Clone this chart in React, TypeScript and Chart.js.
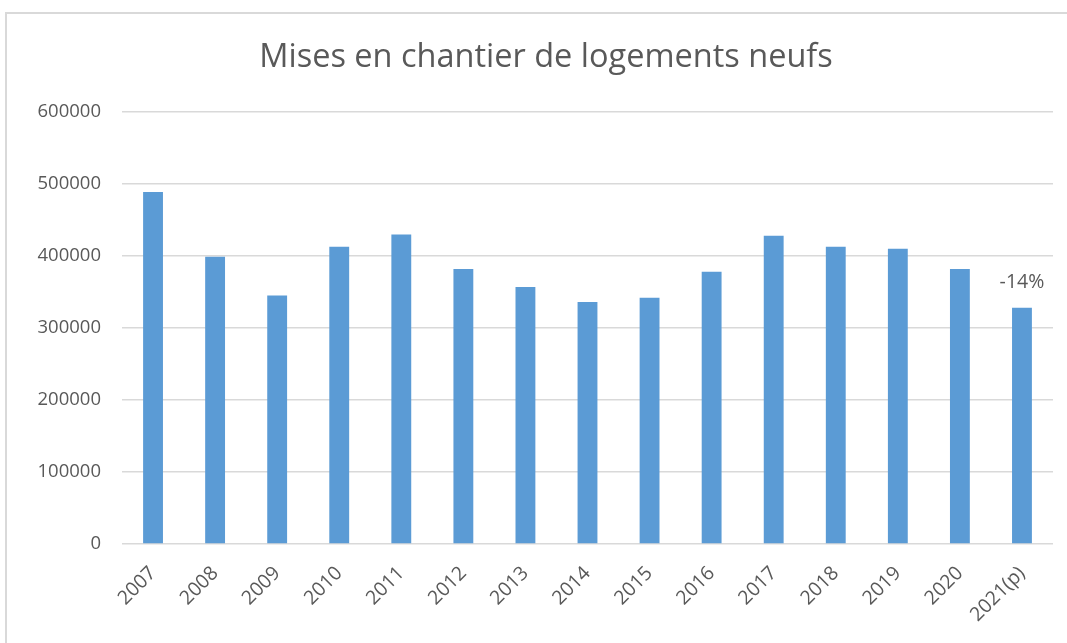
import React, { useEffect, useRef } from "react";
import { Chart, registerables } from "chart.js";

Chart.register(...registerables);

const categories = ["2007", "2008", "2009", "2010", "2011", "2012", "2013", "2014", "2015", "2016", "2017", "2018", "2019", "2020", "2021(p)"];
const values = [489000, 399000, 345000, 413000, 430000, 382000, 357000, 336000, 342000, 378000, 428000, 413000, 410000, 382000, 328000];
const barNotes = ["", "", "", "", "", "", "", "", "", "", "", "", "", "", "-14%"];
const yTicks = [0, 100000, 200000, 300000, 400000, 500000, 600000];
const titleText = "Mises en chantier de logements neufs";

const FONT = "'Open Sans', 'Liberation Sans', sans-serif";
const TEXT = "#595959";

const annotatePlugin = {
  id: "annotate",
  afterDatasetsDraw(chart: any) {
    const ctx = chart.ctx;
    const meta = chart.getDatasetMeta(0);
    ctx.save();
    ctx.font = `19.5px ${FONT}`;
    ctx.fillStyle = TEXT;
    ctx.textAlign = "center";
    ctx.textBaseline = "middle";
    meta.data.forEach((el: any, i: number) => {
      const note = barNotes[i];
      if (note) ctx.fillText(note, el.x, el.y - 25);
    });
    ctx.restore();
  },
};

const titlePlugin = {
  id: "customTitle",
  afterDraw(chart: any) {
    const ctx = chart.ctx;
    ctx.save();
    ctx.font = `32.5px ${FONT}`;
    ctx.fillStyle = TEXT;
    ctx.textAlign = "center";
    ctx.textBaseline = "middle";
    ctx.fillText(titleText, 546, 58);
    ctx.restore();
  },
};

export default function App() {
  const ref = useRef<HTMLCanvasElement | null>(null);
  useEffect(() => {
    if (!ref.current) return;
    const chart = new Chart(ref.current, {
      type: "bar",
      data: {
        labels: categories,
        datasets: [
          {
            data: values,
            backgroundColor: "#5B9BD5",
            borderWidth: 0,
            barPercentage: 0.32,
            categoryPercentage: 1,
          },
        ],
      },
      options: {
        animation: false,
        responsive: false,
        maintainAspectRatio: false,
        layout: { padding: { top: 112, right: 14, left: 0, bottom: 0 } },
        plugins: {
          legend: { display: false },
          title: { display: false },
          tooltip: { enabled: false },
        },
        scales: {
          x: {
            grid: { display: false, drawTicks: false },
            border: { display: false },
            ticks: {
              autoSkip: false,
              minRotation: 45,
              maxRotation: 45,
              padding: 18,
              color: TEXT,
              font: { family: FONT, size: 19.5 },
            },
            afterFit(scale: any) {
              scale.height = 99;
            },
          },
          y: {
            min: 0,
            max: 600000,
            afterBuildTicks(scale: any) {
              scale.ticks = yTicks.map((v) => ({ value: v }));
            },
            grid: { color: "#D9D9D9", lineWidth: 1.5, drawTicks: false },
            border: { display: false },
            ticks: {
              padding: 21,
              color: TEXT,
              font: { family: FONT, size: 18.5 },
              callback: (v: any) => String(v),
            },
            afterFit(scale: any) {
              scale.width = 122;
            },
          },
        },
      },
      plugins: [annotatePlugin, titlePlugin],
    });
    return () => chart.destroy();
  }, []);

  return (
    <div style={{ position: "fixed", left: 0, top: 0, width: 1067, height: 643, background: "#fff", overflow: "hidden" }}>
      <div style={{ position: "absolute", left: 5, top: 12, width: 1080, height: 660, border: "2px solid #D9D9D9", boxSizing: "border-box" }} />
      <canvas ref={ref} width={1067} height={643} style={{ position: "absolute", left: 0, top: 0 }} />
    </div>
  );
}
